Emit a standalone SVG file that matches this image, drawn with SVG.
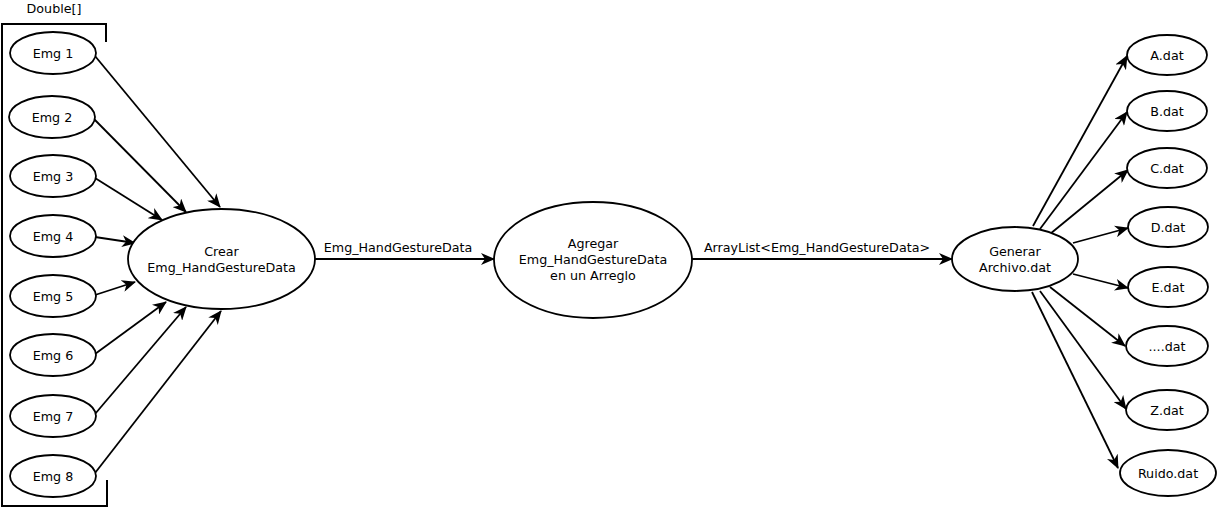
<svg xmlns="http://www.w3.org/2000/svg" width="1221" height="507" viewBox="0 0 1221 507">
<style>
.n ellipse{fill:#fff;stroke:#000;stroke-width:1.8}
text{font-family:"DejaVu Sans","Liberation Sans",sans-serif;font-size:12.7px;fill:#000;text-anchor:middle}
.e line{stroke:#000;stroke-width:1.8;marker-end:url(#arr)}
.br{fill:none;stroke:#000;stroke-width:2}
</style>
<defs>
<marker id="arr" markerUnits="userSpaceOnUse" markerWidth="14" markerHeight="12" viewBox="0 0 14 12" refX="13" refY="6" orient="auto">
<path d="M0,0 L14,6 L0,12 L4,6 Z" fill="#000"/>
</marker>
</defs>
<g id="bracket">
<path class="br" d="M106,42 V24 H2 V506 H107 V480"/>
<text x="54" y="13">Double[]</text>
</g>
<g class="e" id="connectors">
<line x1="95" y1="56" x2="220" y2="207"/>
<line x1="94" y1="119" x2="186" y2="212"/>
<line x1="95" y1="178" x2="162" y2="220"/>
<line x1="95" y1="237" x2="135" y2="243"/>
<line x1="95" y1="295" x2="135" y2="282"/>
<line x1="95" y1="354" x2="166" y2="302"/>
<line x1="95" y1="414" x2="186" y2="307"/>
<line x1="95" y1="473" x2="221" y2="311"/>
<line x1="315" y1="259" x2="494" y2="259"/>
<line x1="692" y1="259" x2="952" y2="259"/>
<line x1="1033" y1="226" x2="1127" y2="56"/>
<line x1="1040" y1="229" x2="1127" y2="112"/>
<line x1="1050" y1="234" x2="1128" y2="170"/>
<line x1="1073" y1="243" x2="1128" y2="228"/>
<line x1="1073" y1="274" x2="1128" y2="288"/>
<line x1="1050" y1="287" x2="1125" y2="346"/>
<line x1="1040" y1="291" x2="1126" y2="409"/>
<line x1="1032" y1="292" x2="1118" y2="468"/>
<text x="398" y="252" stroke="none">Emg_HandGestureData</text>
<text x="817" y="252" stroke="none">ArrayList&lt;Emg_HandGestureData&gt;</text>
</g>
<g class="n" id="emg1"><ellipse cx="53" cy="53" rx="43" ry="21"/><text x="53" y="58">Emg 1</text></g>
<g class="n" id="emg2"><ellipse cx="52" cy="117" rx="43" ry="21"/><text x="52" y="122">Emg 2</text></g>
<g class="n" id="emg3"><ellipse cx="53" cy="176" rx="43" ry="21"/><text x="53" y="181">Emg 3</text></g>
<g class="n" id="emg4"><ellipse cx="53" cy="236" rx="43" ry="21"/><text x="53" y="241">Emg 4</text></g>
<g class="n" id="emg5"><ellipse cx="53" cy="296" rx="43" ry="21"/><text x="53" y="301">Emg 5</text></g>
<g class="n" id="emg6"><ellipse cx="53" cy="355" rx="43" ry="21"/><text x="53" y="360">Emg 6</text></g>
<g class="n" id="emg7"><ellipse cx="53" cy="416" rx="43" ry="21"/><text x="53" y="421">Emg 7</text></g>
<g class="n" id="emg8"><ellipse cx="53" cy="476" rx="43" ry="21"/><text x="53" y="481">Emg 8</text></g>
<g class="n" id="crear"><ellipse cx="221.5" cy="259" rx="93.5" ry="50"/><text x="221.5" y="256">Crear</text><text x="221.5" y="272">Emg_HandGestureData</text></g>
<g class="n" id="agregar"><ellipse cx="593" cy="260" rx="99" ry="58"/><text x="593" y="248">Agregar</text><text x="593" y="264">Emg_HandGestureData</text><text x="593" y="280">en un Arreglo</text></g>
<g class="n" id="generar"><ellipse cx="1015" cy="259" rx="63" ry="32"/><text x="1015" y="256">Generar</text><text x="1015" y="272">Archivo.dat</text></g>
<g class="n" id="a"><ellipse cx="1167" cy="55" rx="40" ry="20"/><text x="1167" y="60">A.dat</text></g>
<g class="n" id="b"><ellipse cx="1167" cy="111" rx="40" ry="20"/><text x="1167" y="116">B.dat</text></g>
<g class="n" id="c"><ellipse cx="1167" cy="168" rx="40" ry="20"/><text x="1167" y="173">C.dat</text></g>
<g class="n" id="d"><ellipse cx="1168" cy="227" rx="40" ry="20"/><text x="1168" y="232">D.dat</text></g>
<g class="n" id="e"><ellipse cx="1168" cy="287" rx="40" ry="20"/><text x="1168" y="292">E.dat</text></g>
<g class="n" id="dots"><ellipse cx="1167" cy="346" rx="41" ry="20"/><text x="1167" y="351">....dat</text></g>
<g class="n" id="z"><ellipse cx="1167" cy="410" rx="41" ry="20"/><text x="1167" y="415">Z.dat</text></g>
<g class="n" id="ruido"><ellipse cx="1168" cy="473" rx="48" ry="23"/><text x="1168" y="478">Ruido.dat</text></g>
</svg>
